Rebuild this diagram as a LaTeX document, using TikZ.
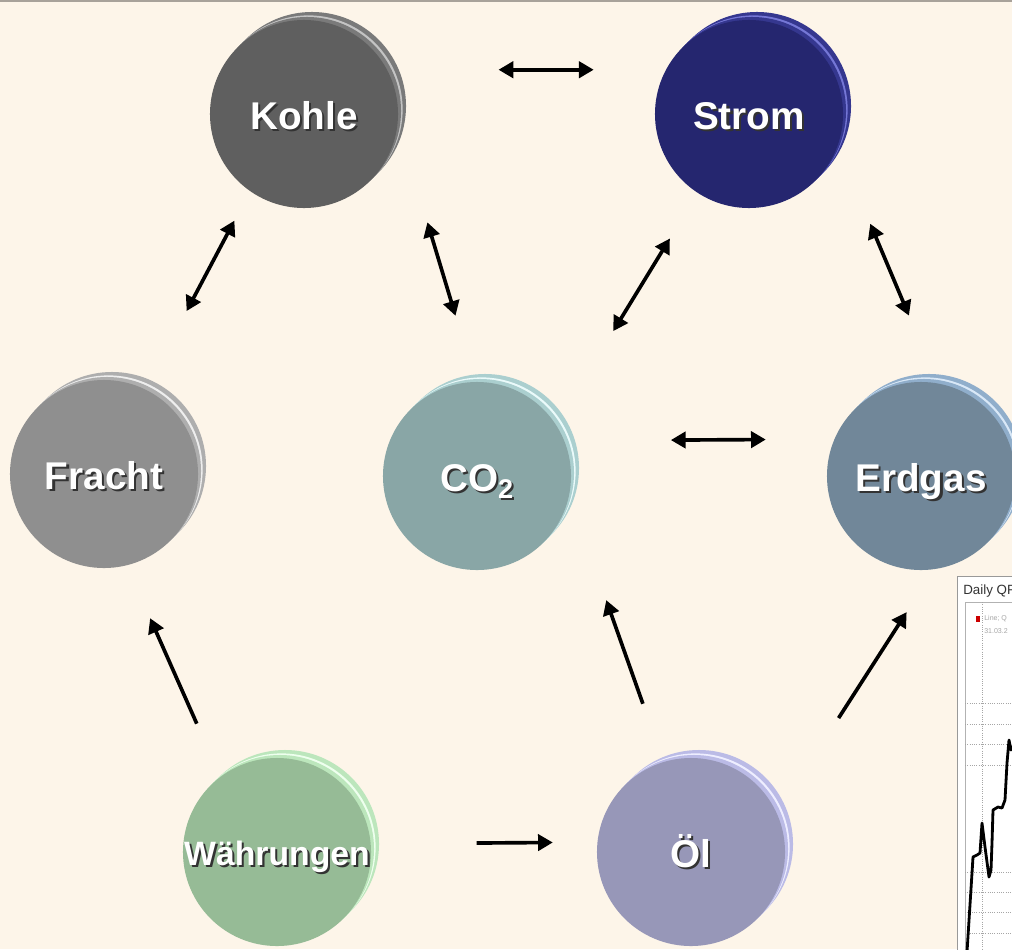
\documentclass[tikz,border=0pt]{standalone}
\usepackage{fontspec}
\setmainfont{Liberation Sans}
\usetikzlibrary{arrows.meta,shadows}
\definecolor{cream}{HTML}{FDF5E9}
\definecolor{topline}{HTML}{A8A29A}
\definecolor{kohleface}{HTML}{5F5F5F}
\definecolor{kohlerim}{HTML}{7A7A7A}
\definecolor{kohleglint}{HTML}{C4C4C4}
\definecolor{stromface}{HTML}{25266F}
\definecolor{stromrim}{HTML}{35378F}
\definecolor{stromglint}{HTML}{7577D6}
\definecolor{frachtface}{HTML}{8F8F8F}
\definecolor{frachtrim}{HTML}{AEAEAE}
\definecolor{frachtglint}{HTML}{EEEEEE}
\definecolor{coface}{HTML}{89A6A6}
\definecolor{corim}{HTML}{ABCFCF}
\definecolor{coglint}{HTML}{EAFAFA}
\definecolor{erdgasface}{HTML}{718799}
\definecolor{erdgasrim}{HTML}{90AECB}
\definecolor{erdgasglint}{HTML}{D9E8F7}
\definecolor{geldface}{HTML}{96BB96}
\definecolor{geldrim}{HTML}{BCE6BC}
\definecolor{geldglint}{HTML}{EEFFEE}
\definecolor{oelface}{HTML}{9797B8}
\definecolor{oelrim}{HTML}{BBBBE6}
\definecolor{oelglint}{HTML}{EEEEFF}
\newcommand{\embossed}[1]{\raisebox{-0.4em}[0pt][0pt]{\makebox[0pt]{\rlap{\kern1.5pt\raisebox{-1.5pt}{\color{black!80}#1}}#1}}}
\tikzset{
  ball/.style n args={3}{
    circle,
    minimum size=4.7cm,
    inner sep=0pt,
    fill=#1,
    copy shadow={shadow xshift=0.2cm, shadow yshift=0.2cm, fill=#2, draw=none},
    copy shadow={shadow xshift=0.115cm, shadow yshift=0.115cm, fill=#3, draw=none},
    copy shadow={shadow xshift=0.075cm, shadow yshift=0.075cm, fill=#2, draw=none},
    text=white,
    font=\bfseries\fontsize{27.5}{30}\selectfont,
  },
  link/.style={
    <->,
    line width=2.6pt,
  },
  push/.style={
    ->,
    line width=2.6pt,
  },
  grid line/.style={
    gray!70,
    densely dotted,
    line width=0.6pt,
  }
}

\begin{document}
\begin{tikzpicture}[x=0.025cm, y=-0.025cm, >={Triangle[length=10.5pt,width=11.5pt]}]
        \useasboundingbox (0,0) rectangle (1012,949);
        \fill[cream] (0,0) rectangle (1012,949);
        \fill[topline] (0,0) rectangle (1012,2);

        \begin{scope}
          \clip (0,0) rectangle (1012,949);
          \draw[gray!80, fill=white, line width=0.6pt] (957,576) rectangle (1040,960);
          \node [anchor=west, inner sep=0pt, text=black!80, font=\fontsize{9.5}{10}\selectfont] (charttitle) at (963,591) {Daily QF};
          \draw[gray!60, line width=0.6pt] (965,602) rectangle (1040,960);
          \draw[grid line] (982,602) -- (982,949);
          \foreach \gy in {703,724,744,765,872,892,912,933}
            \draw[grid line] (965,\gy) -- (1012,\gy);
          \fill[red!80!black] (976,616) rectangle (980,622);
          \node [anchor=west, inner sep=0pt, text=gray!70, font=\fontsize{5}{6}\selectfont] (legendline) at (984,619) {Line; Q};
          \node [anchor=west, inner sep=0pt, text=gray!70, font=\fontsize{5}{6}\selectfont] (legenddate) at (984,631) {31.03.2};
          \draw[black, line width=2pt, line join=round] plot coordinates {(967,952) (972,873) (973,857) (977,855) (980,853) (982,823) (985,847) (989,877) (991,870) (992,843) (993,810) (998,807) (1002,808) (1005,800) (1007,763) (1009,740) (1011,750) (1014,745)};
        \end{scope}

        \node [ball={kohleface}{kohlerim}{kohleglint}] (kohle) at (304,114) {\embossed{Kohle}};
        \node [ball={stromface}{stromrim}{stromglint}] (strom) at (749,114) {\embossed{Strom}};
        \node [ball={frachtface}{frachtrim}{frachtglint}] (fracht) at (104,474) {\embossed{Fracht}};
        \node [ball={coface}{corim}{coglint}] (co2) at (477,476) {\embossed{CO\textsubscript{2}}};
        \node [ball={erdgasface}{erdgasrim}{erdgasglint}] (erdgas) at (921,476) {\embossed{Erdgas}};
        \node [ball={geldface}{geldrim}{geldglint}, font=\bfseries\fontsize{24}{26}\selectfont] (waehrungen) at (277,852) {\embossed{Währungen}};
        \node [ball={oelface}{oelrim}{oelglint}] (oel) at (691,852) {\embossed{Öl}};

        \draw [link, shorten <=2.78cm, shorten >=1.8cm] (kohle.28) -- (strom.152);
        \draw [link, shorten <=2.21cm, shorten >=0.83cm] (fracht.64) -- (kohle.235);
        \draw [link, shorten <=2.57cm, shorten >=1.72cm] (kohle.-6) -- (co2.91);
        \draw [link, shorten <=1.33cm, shorten >=2.74cm] (strom.237) -- (co2.33);
        \draw [link, shorten <=2.1cm, shorten >=1.83cm] (strom.-20) -- (erdgas.80);
        \draw [link, shorten <=2.66cm, shorten >=1.71cm] (co2.22.5) -- (erdgas.157.5);
        \draw [push, shorten <=1.45cm, shorten >=1.44cm] (waehrungen.127) -- (fracht.-76);
        \draw [push, shorten <=1.54cm, shorten >=2.77cm] (oel.107) -- (co2.-12);
        \draw [push, shorten <=2.84cm, shorten >=1.27cm] (oel.24) -- (erdgas.-82);
        \draw [push, shorten <=2.64cm, shorten >=1.11cm] (waehrungen.5.5) -- (oel.174.5);
      \end{tikzpicture}
\end{document}
